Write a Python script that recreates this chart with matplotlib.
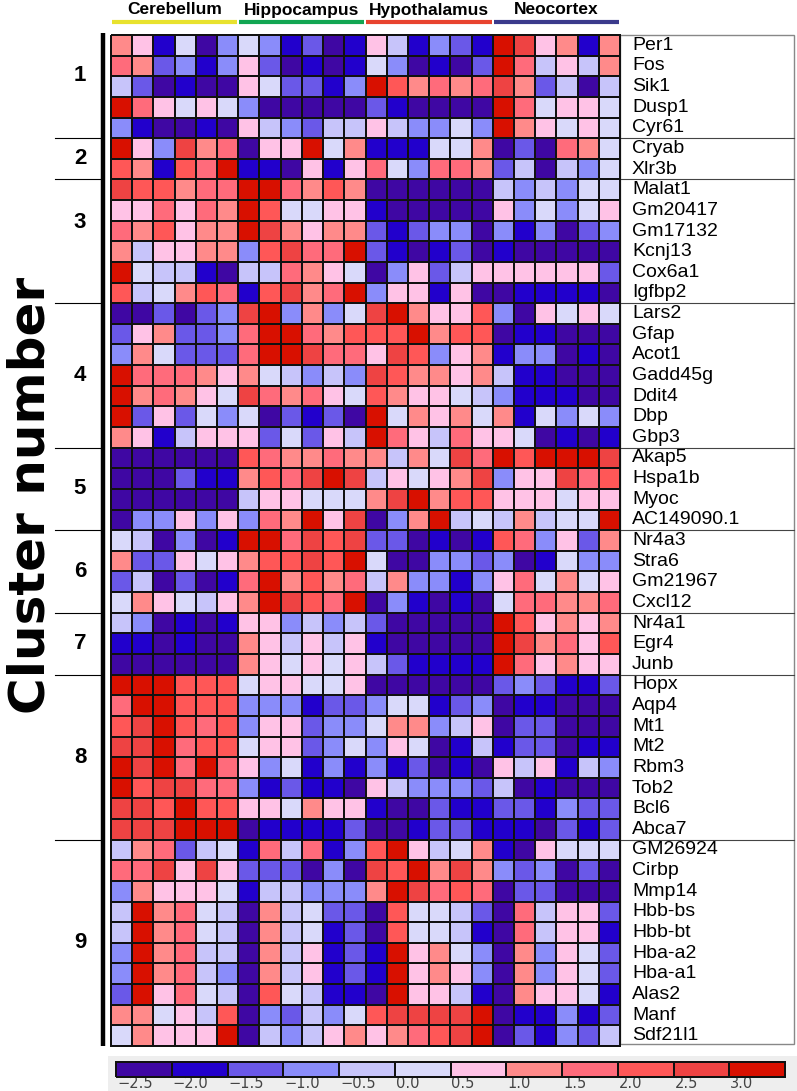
import numpy as np
import matplotlib.pyplot as plt
from matplotlib.colors import ListedColormap, BoundaryNorm
from matplotlib.patches import Rectangle

plt.rcParams['font.family'] = ['Liberation Sans', 'DejaVu Sans']

# column groups (6 samples each)
regions = ['Cerebellum', 'Hippocampus', 'Hypothalamus', 'Neocortex']
region_colors = ['#e8e22e', '#12a652', '#e8432f', '#3b3a8c']
n_rep = 6

# colour scale: 12 bins, labels are the bin values
tick_labels = ['\u22122.5', '\u22122.0', '\u22121.5', '\u22121.0', '\u22120.5', '0.0',
               '0.5', '1.0', '1.5', '2.0', '2.5', '3.0']
bin_colors = ['#3f07a3', '#2200cc', '#6a58e8', '#8a8cfa', '#c7c4fa', '#d9d9fa',
              '#ffc2e6', '#ff8a8a', '#ff6b7b', '#ff5757', '#ee4343', '#d81000']

# values = colour bin index (0 -> -2.5 ... 11 -> 3.0), one row per gene
c1_genes = ['Per1', 'Fos', 'Sik1', 'Dusp1', 'Cyr61']
c1_vals = [
    [7, 6, 1, 5, 0, 3, 5, 3, 1, 2, 0, 1, 6, 4, 1, 3, 2, 1, 11, 10, 6, 7, 1, 7],
    [8, 7, 2, 3, 1, 3, 6, 2, 0, 1, 0, 1, 5, 3, 0, 1, 0, 2, 11, 8, 4, 6, 4, 7],
    [4, 2, 0, 1, 0, 0, 6, 5, 2, 2, 1, 3, 11, 9, 7, 8, 7, 8, 10, 7, 2, 4, 0, 4],
    [11, 8, 6, 5, 6, 5, 3, 0, 0, 0, 0, 0, 2, 1, 0, 0, 0, 0, 11, 8, 5, 6, 6, 5],
    [3, 1, 0, 0, 1, 0, 6, 4, 3, 2, 4, 4, 6, 4, 3, 3, 5, 3, 11, 7, 6, 5, 6, 5],
]
c2_genes = ['Cryab', 'Xlr3b']
c2_vals = [
    [11, 6, 3, 10, 7, 8, 0, 6, 6, 11, 5, 7, 1, 1, 1, 5, 5, 7, 0, 2, 0, 8, 7, 5],
    [9, 7, 1, 9, 8, 11, 1, 1, 0, 6, 1, 6, 8, 5, 3, 8, 8, 7, 2, 4, 0, 4, 3, 5],
]
c3_genes = ['Malat1', 'Gm20417', 'Gm17132', 'Kcnj13', 'Cox6a1', 'Igfbp2']
c3_vals = [
    [10, 9, 9, 7, 8, 8, 11, 11, 8, 7, 9, 7, 0, 0, 0, 0, 0, 0, 4, 3, 4, 3, 5, 5],
    [6, 6, 8, 6, 8, 7, 11, 9, 5, 5, 6, 6, 1, 0, 0, 0, 0, 0, 6, 3, 5, 3, 5, 6],
    [8, 7, 9, 6, 7, 7, 11, 10, 7, 6, 7, 7, 2, 1, 2, 3, 3, 0, 3, 1, 3, 0, 2, 3],
    [7, 4, 6, 6, 7, 7, 3, 9, 10, 8, 8, 11, 2, 1, 0, 1, 2, 0, 1, 0, 0, 0, 0, 0],
    [11, 5, 4, 4, 1, 0, 4, 4, 8, 7, 6, 5, 0, 3, 6, 2, 4, 6, 6, 6, 6, 6, 6, 2],
    [9, 4, 5, 7, 9, 8, 1, 9, 10, 7, 8, 11, 3, 6, 6, 1, 6, 0, 0, 1, 1, 1, 1, 0],
]
c4_genes = ['Lars2', 'Gfap', 'Acot1', 'Gadd45g', 'Ddit4', 'Dbp', 'Gbp3']
c4_vals = [
    [0, 0, 2, 0, 2, 3, 10, 11, 3, 7, 3, 5, 10, 11, 7, 6, 6, 9, 3, 0, 6, 5, 6, 5],
    [2, 6, 7, 2, 2, 3, 8, 11, 11, 8, 7, 9, 9, 9, 11, 7, 9, 9, 0, 1, 1, 0, 0, 0],
    [3, 7, 5, 2, 2, 2, 8, 11, 11, 10, 8, 8, 6, 10, 9, 3, 6, 7, 1, 3, 3, 0, 1, 0],
    [11, 8, 8, 8, 7, 6, 7, 5, 4, 3, 4, 3, 10, 9, 7, 7, 6, 7, 4, 1, 1, 0, 0, 0],
    [11, 7, 8, 7, 6, 5, 10, 8, 7, 8, 6, 5, 9, 7, 6, 6, 5, 4, 3, 1, 1, 1, 0, 0],
    [11, 2, 6, 2, 5, 3, 5, 0, 2, 1, 2, 0, 11, 5, 7, 6, 7, 5, 7, 1, 5, 3, 5, 3],
    [7, 6, 1, 4, 6, 6, 6, 2, 5, 2, 6, 4, 11, 8, 6, 4, 8, 6, 6, 5, 0, 1, 0, 1],
]
c5_genes = ['Akap5', 'Hspa1b', 'Myoc', 'AC149090.1']
c5_vals = [
    [0, 0, 0, 0, 0, 0, 9, 8, 7, 7, 8, 7, 7, 4, 7, 5, 10, 8, 11, 9, 11, 11, 11, 10],
    [0, 0, 0, 2, 1, 1, 7, 9, 8, 10, 11, 10, 4, 6, 5, 6, 7, 10, 3, 6, 6, 10, 8, 9],
    [0, 0, 0, 0, 0, 0, 4, 6, 6, 5, 5, 5, 7, 10, 11, 7, 9, 9, 6, 6, 6, 5, 6, 6],
    [0, 3, 3, 6, 3, 6, 3, 8, 7, 11, 6, 10, 0, 3, 7, 11, 4, 5, 4, 7, 4, 5, 5, 11],
]
c6_genes = ['Nr4a3', 'Stra6', 'Gm21967', 'Cxcl12']
c6_vals = [
    [5, 4, 0, 3, 0, 1, 11, 11, 8, 10, 9, 10, 2, 2, 0, 1, 0, 1, 9, 8, 3, 6, 2, 7],
    [7, 2, 2, 6, 5, 6, 7, 9, 9, 10, 9, 11, 5, 0, 0, 3, 3, 2, 3, 0, 1, 5, 3, 3],
    [2, 4, 0, 2, 0, 1, 8, 11, 7, 9, 7, 8, 4, 7, 3, 3, 1, 3, 6, 8, 5, 7, 5, 6],
    [5, 7, 6, 5, 4, 6, 7, 11, 10, 9, 8, 11, 0, 3, 1, 0, 1, 0, 5, 8, 8, 7, 7, 8],
]
c7_genes = ['Nr4a1', 'Egr4', 'Junb']
c7_vals = [
    [4, 3, 0, 1, 0, 1, 6, 6, 3, 4, 3, 4, 2, 0, 0, 0, 0, 0, 11, 9, 6, 7, 6, 7],
    [1, 1, 0, 1, 0, 0, 7, 6, 4, 6, 4, 6, 1, 0, 0, 0, 0, 0, 11, 10, 7, 8, 6, 9],
    [0, 0, 0, 0, 0, 0, 7, 6, 5, 6, 5, 6, 4, 2, 1, 1, 1, 1, 11, 8, 6, 7, 6, 6],
]
c8_genes = ['Hopx', 'Aqp4', 'Mt1', 'Mt2', 'Rbm3', 'Tob2', 'Bcl6', 'Abca7']
c8_vals = [
    [11, 11, 11, 9, 9, 9, 5, 6, 6, 5, 5, 6, 0, 0, 0, 0, 0, 0, 2, 3, 2, 1, 1, 2],
    [8, 11, 11, 9, 9, 9, 3, 3, 3, 1, 2, 2, 3, 5, 5, 1, 2, 3, 0, 1, 1, 0, 0, 0],
    [9, 10, 11, 9, 8, 9, 3, 6, 6, 2, 3, 3, 5, 7, 7, 3, 4, 6, 0, 2, 2, 0, 0, 0],
    [10, 10, 11, 8, 9, 9, 5, 6, 6, 2, 3, 5, 3, 6, 5, 0, 1, 4, 1, 2, 2, 0, 1, 1],
    [11, 10, 11, 8, 11, 8, 6, 3, 5, 1, 3, 1, 3, 1, 2, 0, 1, 0, 6, 4, 6, 1, 4, 3],
    [11, 9, 10, 10, 8, 8, 3, 1, 2, 1, 1, 0, 6, 4, 3, 3, 3, 2, 4, 0, 1, 0, 0, 0],
    [10, 10, 9, 11, 9, 9, 6, 6, 5, 7, 6, 6, 1, 0, 0, 2, 1, 1, 2, 2, 1, 3, 2, 2],
    [10, 10, 10, 11, 11, 11, 0, 1, 1, 1, 1, 2, 0, 0, 1, 2, 2, 1, 1, 1, 0, 2, 1, 2],
]
c9_genes = ['GM26924', 'Cirbp', 'Mmp14', 'Hbb-bs', 'Hbb-bt', 'Hba-a2', 'Hba-a1',
            'Alas2', 'Manf', 'Sdf21l1']
c9_vals = [
    [4, 7, 8, 2, 4, 5, 1, 8, 4, 8, 1, 3, 9, 11, 6, 4, 5, 7, 1, 0, 6, 5, 5, 5],
    [8, 8, 10, 6, 10, 6, 2, 2, 2, 0, 3, 0, 10, 9, 11, 7, 10, 7, 3, 2, 3, 0, 2, 0],
    [3, 7, 6, 6, 6, 5, 1, 4, 4, 3, 3, 3, 7, 11, 10, 8, 9, 8, 0, 2, 2, 0, 0, 0],
    [4, 11, 7, 8, 5, 4, 0, 7, 4, 5, 2, 2, 0, 9, 5, 5, 4, 2, 0, 8, 4, 6, 6, 2],
    [4, 11, 7, 8, 5, 4, 0, 7, 4, 5, 1, 2, 0, 9, 5, 5, 4, 1, 0, 8, 4, 6, 6, 1],
    [3, 11, 7, 8, 4, 4, 0, 7, 4, 6, 1, 2, 1, 11, 6, 7, 5, 3, 0, 7, 3, 6, 5, 2],
    [3, 11, 7, 8, 4, 3, 0, 7, 4, 6, 1, 2, 1, 11, 6, 7, 6, 3, 0, 7, 3, 6, 5, 2],
    [2, 11, 6, 8, 5, 4, 0, 9, 5, 4, 1, 1, 0, 11, 6, 6, 4, 1, 0, 7, 6, 6, 5, 1],
    [7, 7, 5, 6, 4, 9, 0, 3, 2, 4, 3, 5, 9, 10, 10, 10, 10, 11, 0, 1, 1, 3, 1, 2],
    [5, 7, 6, 6, 6, 11, 0, 4, 3, 4, 6, 7, 6, 7, 8, 9, 10, 11, 0, 2, 1, 3, 2, 4],
]

clusters = [(c1_genes, c1_vals), (c2_genes, c2_vals), (c3_genes, c3_vals),
            (c4_genes, c4_vals), (c5_genes, c5_vals), (c6_genes, c6_vals),
            (c7_genes, c7_vals), (c8_genes, c8_vals), (c9_genes, c9_vals)]

genes = [g for gs, _ in clusters for g in gs]
vals = np.array([r for _, vs in clusters for r in vs])
sizes = [len(gs) for gs, _ in clusters]
bounds = np.cumsum([0] + sizes)

cmap = ListedColormap(bin_colors)
norm = BoundaryNorm(np.arange(-0.5, len(bin_colors) + 0.5), len(bin_colors))

W, H = 797, 1091
fig = plt.figure(figsize=(W / 100, H / 100), dpi=100)


def frac(x0, y0, x1, y1):
    return [x0 / W, 1 - y1 / H, (x1 - x0) / W, (y1 - y0) / H]


# overlay in pixel coordinates for lines / labels
ov = fig.add_axes([0, 0, 1, 1])
ov.set_xlim(0, W)
ov.set_ylim(H, 0)
ov.axis('off')

hx0, hy0, hx1, hy1 = 111, 35, 620, 1046
nrow, ncol = vals.shape
rh = (hy1 - hy0) / nrow
cw = (hx1 - hx0) / ncol

ax = fig.add_axes(frac(hx0, hy0, hx1, hy1), zorder=3)
mesh = ax.pcolormesh(vals, cmap=cmap, norm=norm, edgecolors='#111111', linewidth=1.4)
mesh.set_clip_on(False)
ax.set_xlim(0, ncol)
ax.set_ylim(nrow, 0)
ax.axis('off')

# gene label box
ov.add_patch(Rectangle((hx1, hy0), 794 - hx1, 1044 - hy0, fill=False, ec='#888888', lw=1))
for i, g in enumerate(genes):
    ov.text(632, hy0 + (i + 0.5) * rh, g, fontsize=14, ha='left', va='center')

# cluster separators
for b in bounds[1:-1]:
    y = hy0 + b * rh
    ov.plot([55, 103], [y, y], color='black', lw=0.8)
    ov.plot([hx1, 794], [y, y], color='#444444', lw=0.8)

ov.plot([103, 103], [33, 1046], color='black', lw=3.2, solid_capstyle='butt')

nudge = [-0.55, 0, -0.9, 0, 0, 0, 0, 0, 0]
for k in range(len(sizes)):
    yc = hy0 + ((bounds[k] + bounds[k + 1]) / 2 + nudge[k]) * rh
    ov.text(80, yc, str(k + 1), fontsize=16, fontweight='bold', ha='center', va='center')

ov.text(31, 495, 'Cluster number', rotation=90, fontsize=36, fontweight='bold',
        ha='center', va='center', family=['DejaVu Sans'])

# region header
for k, (name, col) in enumerate(zip(regions, region_colors)):
    x0 = hx0 + k * n_rep * cw
    x1 = x0 + n_rep * cw
    ov.plot([x0 + 1, x1 - 1], [22, 22], color=col, lw=3, solid_capstyle='butt')
    ov.text((x0 + x1) / 2, 10, name, fontsize=12.5, fontweight='bold', ha='center', va='center')

# colour key
ov.add_patch(Rectangle((108, 1056), W - 108, H - 1056, color='#eeeeee', lw=0))
kx0, kx1 = 116, 785
cax = fig.add_axes(frac(kx0, 1062, kx1, 1077), zorder=3)
cax.pcolormesh(np.arange(len(bin_colors))[None, :], cmap=cmap, norm=norm,
               edgecolors='#111111', linewidth=1.2).set_clip_on(False)
cax.set_xlim(0, len(bin_colors))
cax.axis('off')
seg = (kx1 - kx0) / len(bin_colors)
for i, t in enumerate(tick_labels):
    ov.text(kx0 + i * seg + 1, 1084, t, fontsize=10.5, color='#444444',
            ha='left', va='center', family='DejaVu Sans')

fig.savefig('out.png', dpi=100)
